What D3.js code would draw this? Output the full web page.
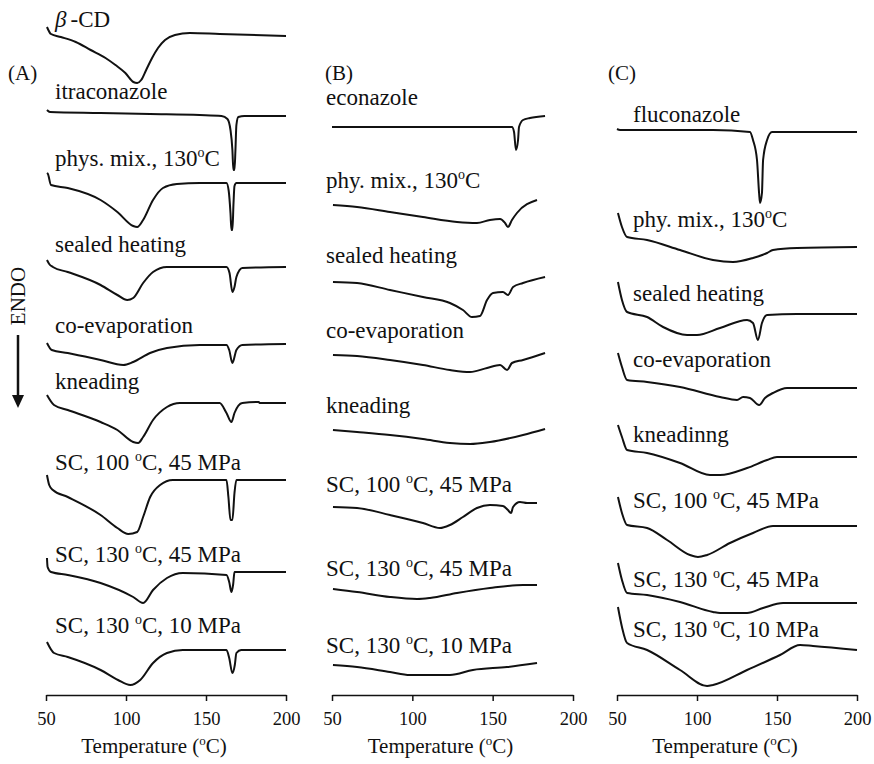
<!DOCTYPE html>
<html>
<head>
<meta charset="utf-8">
<script src="https://cdn.jsdelivr.net/npm/d3@7"></script>
<style>
  body { margin: 0; background: #fff; }
  text { font-family: "Liberation Serif", "Times New Roman", serif; fill: #111; }
</style>
</head>
<body>
<svg id="chart" width="874" height="764"></svg>
<script>
// Temperature axis (°C), shared by the three panels
const tempDomain = [50, 200];
const tempTicks = [50, 100, 150, 200];

// Panel A: itraconazole / beta-CD
const labelsA = ['β-CD', 'itraconazole', 'phys. mix., 130°C', 'sealed heating', 'co-evaporation',
  'kneading', 'SC, 100 °C, 45 MPa', 'SC, 130 °C, 45 MPa', 'SC, 130 °C, 10 MPa'];
// vertical offset of each trace (heat flow, arbitrary units)
const baseA = [660, 580, 513, 429, 352, 293, 216, 124, 46];
const labelLevelA = [669, 597, 530, 444, 363, 307, 226, 134, 63];
// [temperature, heat flow relative to offset]
const curvesA = [
  [[50.6,9],[53.1,2],[59.3,-1],[68.6,-6],[77.9,-14],[87.2,-22],[93.4,-29],[99.6,-37],[104.6,-46],[107,-47],[109.5,-44],[112.6,-34],[116.3,-22],[120,-12],[124.4,-4],[130.6,1],[139.9,3],[158.5,2],[200,0]],
  [[50.6,6],[52.5,4],[84,3],[115,2],[146,1],[159.7,0],[163.4,-3],[165.3,-14],[166.5,-34],[167.1,-54],[167.8,-54],[168.4,-34],[169,-9],[170.2,-1],[174,0],[200,0]],
  [[50.6,10],[51.2,9],[53.1,-2],[63.6,-5],[84.1,-17],[94.6,-29],[104.5,-43],[107,-44],[110.7,-37],[116.9,-17],[123.1,-5],[131.8,-1],[146.1,0],[162.8,0],[164.2,-8],[165.3,-30],[165.9,-47],[166.5,-47],[167.2,-20],[167.8,-3],[169,0],[200,0]],
  [[50.6,7],[52,3],[54.3,0],[63.6,-5],[84.1,-18],[94.6,-28],[100.8,-33],[104.5,-31],[110.7,-16],[116.9,-5],[125.6,0],[162.8,0],[164.7,-6],[166.5,-25],[167.8,-20],[169,-10],[172.7,-1],[200,0]],
  [[50.6,1],[53.6,-6],[63.6,-9],[84.1,-16],[98.3,-21],[104.5,-18],[115,-9],[125.6,-4],[146.1,-1],[162.8,-1],[164.5,-6],[166.5,-19],[169,-6],[172.7,-1],[200,0]],
  [[50.6,8],[55,-2],[63.6,-7],[84.1,-19],[94.6,-27],[104.5,-39],[107.6,-40],[110.7,-34],[116.9,-17],[125.6,-4],[133.7,0],[158.5,0],[162.8,-10],[165.9,-19],[167.8,-10],[172.7,0],[183,1],[183.5,0],[200,0]],
  [[50.6,5],[52,-5],[54.3,-10],[63.6,-17],[84.1,-35],[94.6,-48],[101.4,-54],[107,-52],[110.7,-37],[115.1,-17],[121.3,-5],[129.3,0],[162.8,0],[164,-17],[165.3,-40],[166.5,-40],[167.8,-13],[169,0],[200,0]],
  [[50.6,14],[51,5],[53.1,0],[63.6,-3],[84.1,-11],[104.5,-25],[110.7,-31],[116.9,-18],[125.6,-6],[135.5,-1],[162.8,-3],[164.5,-10],[165.9,-20],[167,-12],[167.8,0],[200,0]],
  [[50.6,8],[55,-3],[63.6,-7],[84.1,-20],[95,-30],[102.7,-35],[108.9,-30],[116.9,-13],[125.6,-3],[135.5,0],[162.8,0],[164.5,-8],[166.5,-23],[168,-15],[169,-3],[172,0],[200,0]]
];

// Panel B: econazole
const labelsB = ['econazole', 'phy. mix., 130°C', 'sealed heating', 'co-evaporation', 'kneading',
  'SC, 100 °C, 45 MPa', 'SC, 130 °C, 45 MPa', 'SC, 130 °C, 10 MPa'];
const baseB = [569, 491, 414, 341, 266, 189, 107, 31];
const labelLevelB = [591, 508, 433, 358, 283, 204, 120, 43];
const curvesB = [
  [[50,0],[162,0],[163.3,-5],[164.5,-23],[165.8,-13],[166.4,0],[168.9,7],[173.2,9],[182.6,11]],
  [[50.6,0],[65.6,-2],[86.1,-7],[106.6,-12],[127.8,-17],[140.2,-18],[148.3,-15],[154.6,-14],[157.7,-18],[159.5,-22],[162,-15],[165.1,-8],[177.6,5]],
  [[50.6,0],[65.6,-1],[86.1,-8],[106.6,-15],[123.4,-21],[131.5,-28],[137.1,-35],[142.1,-34],[146.5,-18],[150.2,-11],[156.4,-10],[159.5,-13],[162.7,-5],[168.9,-1],[182.6,5]],
  [[50.6,0],[65.6,-1],[86.1,-5],[106.6,-10],[123.4,-15],[135.9,-17],[146.5,-13],[154.6,-10],[159,-15],[162,-8],[168.9,-5],[182.6,2]],
  [[50.6,0],[65.6,-2],[86.1,-5],[106.6,-9],[123.4,-13],[135.9,-14],[148.3,-12],[168.9,-5],[182.6,1]],
  [[50.6,0],[65.6,-1],[86.1,-8],[106.6,-16],[117.2,-21],[123.4,-18],[131.5,-10],[140.2,-1],[148.3,2],[156.4,1],[159.5,-3],[161.4,-6],[162.7,0],[167,5],[171.4,4],[177.6,4]],
  [[50.6,0],[65.6,-3],[86.1,-8],[102.9,-10],[111,-9],[127.8,-4],[148.3,1],[168.9,4],[177.6,4]],
  [[50.6,0],[65.6,-2],[86.1,-7],[98.5,-10],[123.4,-10],[137.7,-5],[158.9,-2],[177.6,2]]
];

// Panel C: fluconazole
const labelsC = ['fluconazole', 'phy. mix., 130°C', 'sealed heating', 'co-evaporation', 'kneadinng',
  'SC, 100 °C, 45 MPa', 'SC, 130 °C, 45 MPa', 'SC, 130 °C, 10 MPa'];
const baseC = [564, 449, 382, 308, 239, 170, 93, 46];
const labelLevelC = [574, 469, 395, 329, 254, 188, 109, 59];
const curvesC = [
  [[50,3],[51.9,2],[78.8,2],[110,2],[133.1,0],[135,-8],[137.5,-28],[138.8,-61],[139.4,-71],[140.6,-61],[141.3,-28],[143.8,-8],[146.9,0],[200,0]],
  [[50.6,34],[53.1,20],[56.3,10],[68.8,7],[89.4,-3],[110,-13],[122.5,-15],[135,-11],[143.8,-6],[147.5,-3],[162.5,-1],[200,0]],
  [[50.6,32],[53.1,14],[56.3,2],[68.8,-3],[78.8,-13],[93.8,-21],[100,-21],[114.4,-14],[131.3,-6],[135,-9],[138.1,-26],[140.6,-9],[143.8,-1],[162.5,0],[200,0]],
  [[50.6,35],[53.1,21],[56.3,8],[68.8,6],[89.4,1],[114.4,-9],[125,-12],[128.8,-9],[133.1,-10],[138.8,-17],[142.5,-10],[147.5,-5],[156.3,0],[200,0]],
  [[50.6,32],[53.1,20],[56.3,7],[68.8,4],[89.4,-6],[108.1,-18],[114.4,-18],[131.3,-11],[143.8,-3],[150,0],[200,0]],
  [[50.6,29],[53.1,13],[56.3,1],[68.8,-2],[81.3,-14],[95.6,-29],[100.6,-31],[106.3,-29],[120.6,-17],[135,-7],[147.5,0],[200,0]],
  [[50.6,40],[53.1,23],[56.3,10],[68.8,8],[89.4,1],[110,-9],[114.4,-10],[131.3,-10],[141.3,-5],[153.8,0],[200,0]],
  [[50.6,43],[53.1,23],[56.3,7],[68.8,0],[89.4,-20],[106.3,-36],[110,-35],[131.3,-20],[151.9,-5],[164.4,5],[172.5,4],[200,0]]
];

const panels = [
  { tag: '(A)', labels: labelsA, base: baseA, labelLevel: labelLevelA, curves: curvesA, left: 46, right: 286, labelX: 55, tagX: 8 },
  { tag: '(B)', labels: labelsB, base: baseB, labelLevel: labelLevelB, curves: curvesB, left: 332, right: 573, labelX: 326, tagX: 325 },
  { tag: '(C)', labels: labelsC, base: baseC, labelLevel: labelLevelC, curves: curvesC, left: 617, right: 857, labelX: 633, tagX: 608 }
];

const svg = d3.select('#chart');
const axisY = 695;

// heat-flow scale, same for all panels
const y = d3.scaleLinear().domain([0, 680]).range([696, 16]);

// writes text, turning "°" into a raised small "o" and β into italic
function richText(sel, str, size) {
  if (str.startsWith('β')) {
    sel.append('tspan').style('font-style', 'italic').text('β');
    sel.append('tspan').attr('dx', 4).text(str.slice(1));
    return;
  }
  const parts = str.split('°');
  sel.append('tspan').text(parts[0]);
  if (parts.length > 1) {
    const lift = Math.round(size * 0.4);
    sel.append('tspan').attr('dy', -lift).style('font-size', Math.round(size * 0.62) + 'px').text('o');
    sel.append('tspan').attr('dy', lift).text(parts[1]);
  }
}

panels.forEach(p => {
  const x = d3.scaleLinear().domain(tempDomain).range([p.left, p.right]);
  const g = svg.append('g');

  const line = d3.line()
    .x(d => x(d[0]))
    .y(d => y(d[1]))
    .curve(d3.curveMonotoneX);

  // traces
  p.curves.forEach((c, i) => {
    g.append('path')
      .datum(c.map(d => [d[0], p.base[i] + d[1]]))
      .attr('d', line)
      .attr('fill', 'none')
      .attr('stroke', '#111')
      .attr('stroke-width', 2)
      .attr('stroke-linejoin', 'round');
  });

  // trace labels
  p.labels.forEach((lab, i) => {
    const t = g.append('text')
      .attr('x', p.labelX)
      .attr('y', y(p.labelLevel[i]))
      .style('font-size', '23px');
    richText(t, lab, 23);
  });

  // panel tag
  g.append('text')
    .attr('x', p.tagX)
    .attr('y', 80)
    .style('font-size', '21px')
    .text(p.tag);

  // x axis
  const ax = g.append('g')
    .attr('transform', `translate(0,${axisY})`)
    .call(d3.axisBottom(x).tickValues(tempTicks).tickSize(6).tickSizeOuter(0).tickPadding(11));
  ax.select('.domain').attr('stroke', '#111').attr('stroke-width', 1.5);
  ax.selectAll('.tick line').attr('stroke', '#111').attr('stroke-width', 1.5);
  ax.selectAll('.tick text')
    .style('font-family', '"Liberation Serif", "Times New Roman", serif')
    .style('font-size', '18.5px')
    .attr('fill', '#111');

  const title = g.append('text')
    .attr('x', (p.left + p.right) / 2 - 12)
    .attr('y', 753)
    .attr('text-anchor', 'middle')
    .style('font-size', '21px');
  richText(title, 'Temperature (°C)', 21);
});

// ENDO direction marker
svg.append('text')
  .attr('transform', 'translate(25,296) rotate(-90)')
  .attr('text-anchor', 'middle')
  .style('font-size', '21px')
  .text('ENDO');
svg.append('line')
  .attr('x1', 18).attr('x2', 18)
  .attr('y1', 335).attr('y2', 397)
  .attr('stroke', '#111')
  .attr('stroke-width', 2.5);
svg.append('path')
  .attr('d', d3.line()([[12, 395], [24, 395], [18, 408]]) + 'Z')
  .attr('fill', '#111');
</script>
</body>
</html>
